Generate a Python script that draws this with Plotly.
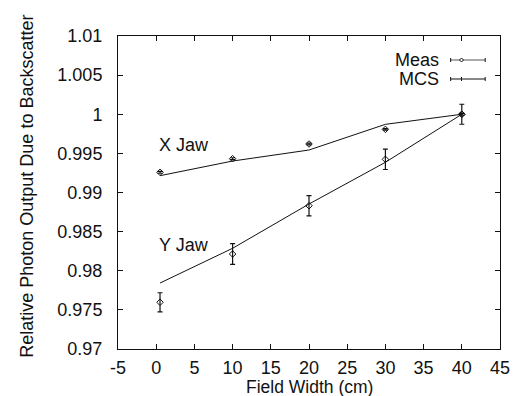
import plotly.graph_objects as go

# Data
x_meas = [0.5, 10, 20, 30, 40]
x_meas_y = [0.99258, 0.99432, 0.9962, 0.99807, 1.0]
x_meas_err = [0.00012, 0.00012, 0.00012, 0.0001, 0.00012]
y_meas_y = [0.97597, 0.98214, 0.98831, 0.99424, 1.0]
y_meas_err = [0.00122, 0.00132, 0.0013, 0.0013, 0.00128]

x_mcs = [0.5, 10, 20, 30, 40]
x_mcs_y = [0.99215, 0.99402, 0.99543, 0.99871, 1.0]
y_mcs_y = [0.97843, 0.98287, 0.98853, 0.99386, 1.0]

x_ticks = [-5, 0, 5, 10, 15, 20, 25, 30, 35, 40, 45]
x_tick_labels = ["-5", "0", "5", "10", "15", "20", "25", "30", "35", "40", "45"]
y_ticks = [0.97, 0.975, 0.98, 0.985, 0.99, 0.995, 1.0, 1.005, 1.01]
y_tick_labels = ["0.97", "0.975", "0.98", "0.985", "0.99", "0.995", "1", "1.005", "1.01"]

FONT = "Liberation Sans, Arial, Helvetica, sans-serif"
BLACK = "#111111"

fig = go.Figure()

for yy in (x_mcs_y, y_mcs_y):
    fig.add_trace(go.Scatter(x=x_mcs, y=yy, mode="lines",
                             line=dict(color=BLACK, width=1), showlegend=False,
                             hoverinfo="skip"))

for yy, ee in ((x_meas_y, x_meas_err), (y_meas_y, y_meas_err)):
    fig.add_trace(go.Scatter(
        x=x_meas, y=yy, mode="markers",
        marker=dict(symbol="diamond-open", size=5, color=BLACK, line=dict(width=1, color=BLACK)),
        error_y=dict(type="data", array=ee, visible=True, color=BLACK, thickness=1.2, width=2.5),
        showlegend=False))

fig.update_layout(
    width=522, height=396,
    margin=dict(l=118, r=17, t=36, b=47),
    paper_bgcolor="white", plot_bgcolor="white",
    font=dict(family=FONT, size=18, color=BLACK),
    showlegend=False,
)
fig.update_xaxes(range=[-5, 45], tickvals=x_ticks, ticktext=x_tick_labels,
                 ticks="inside", ticklen=5,
                 tickcolor=BLACK, showline=True, linecolor=BLACK, linewidth=1,
                 mirror="allticks", showgrid=False, zeroline=False,
                 tickfont=dict(size=18), ticklabelstandoff=2)
fig.update_yaxes(range=[0.97, 1.01], tickvals=y_ticks, ticktext=y_tick_labels,
                 ticks="inside", ticklen=5, tickcolor=BLACK, showline=True,
                 linecolor=BLACK, linewidth=1, mirror="allticks", showgrid=False,
                 zeroline=False, tickfont=dict(size=18), ticklabelstandoff=11)

ann = [
    dict(text="Field Width (cm)", xref="paper", yref="paper", x=0.5, y=(349 - 386.5) / 313,
         xanchor="center", yanchor="middle", showarrow=False, font=dict(size=17.5),
         borderpad=0),
    dict(text="Relative Photon Output Due to Backscatter", xref="paper", yref="paper",
         x=(25 - 118) / 387, y=0.519, xanchor="center", yanchor="middle", textangle=-90,
         showarrow=False, font=dict(size=18)),
    dict(text="X Jaw", xref="x", yref="y", x=0.05, y=0.99612, xanchor="left",
         yanchor="middle", showarrow=False, font=dict(size=18)),
    dict(text="Y Jaw", xref="x", yref="y", x=0.05, y=0.98325, xanchor="left",
         yanchor="middle", showarrow=False, font=dict(size=18)),
    dict(text="Meas", xref="paper", yref="paper", x=(445 - 118) / 387, y=(349 - 60) / 313,
         xanchor="right", yanchor="middle", showarrow=False, font=dict(size=18)),
    dict(text="MCS", xref="paper", yref="paper", x=(445 - 118) / 387, y=(349 - 79) / 313,
         xanchor="right", yanchor="middle", showarrow=False, font=dict(size=18)),
]
fig.update_layout(annotations=ann)

def px(xp):
    return (xp - 118) / 387

def py(yp):
    return (349 - yp) / 313

shapes = []
for yp, col in ((60, "#555555"), (79, BLACK)):
    shapes.append(dict(type="line", xref="paper", yref="paper", x0=px(455), x1=px(490),
                       y0=py(yp), y1=py(yp), line=dict(color=col, width=1)))
    for xe in (455, 490):
        shapes.append(dict(type="line", xref="paper", yref="paper", x0=px(xe), x1=px(xe),
                           y0=py(yp - 2), y1=py(yp + 2), line=dict(color=BLACK, width=1)))
# center tick on MCS sample
shapes.append(dict(type="line", xref="paper", yref="paper", x0=px(466), x1=px(466),
                   y0=py(77), y1=py(81), line=dict(color=BLACK, width=1)))
# diamond on Meas sample
shapes.append(dict(type="path", xref="paper", yref="paper",
                   path=f"M {px(464)} {py(60)} L {px(466)} {py(58)} L {px(468)} {py(60)} L {px(466)} {py(62)} Z",
                   line=dict(color=BLACK, width=1), fillcolor="white"))
fig.update_layout(shapes=shapes)

fig.write_html("out.html")
